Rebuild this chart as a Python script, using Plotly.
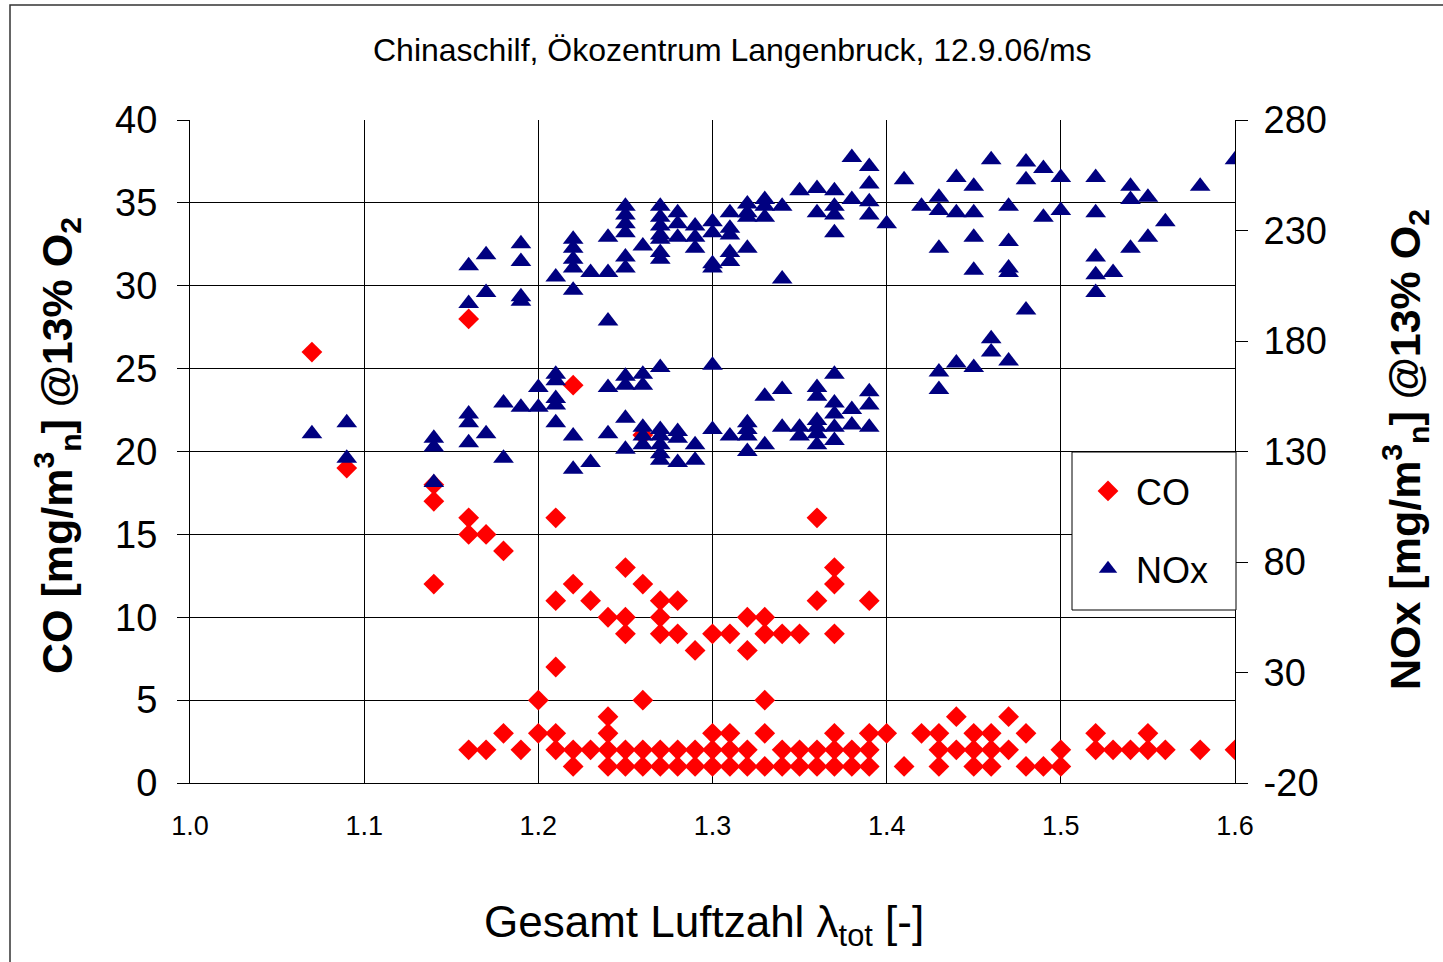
import plotly.graph_objects as go

# ---------------- data ----------------
co_lambda = [
    1.07, 1.09, 1.14, 1.14, 1.14, 1.16, 1.16, 1.16, 1.16, 1.17, 1.17, 1.18, 1.18, 1.19,
    1.20, 1.20, 1.21, 1.21, 1.21, 1.21, 1.21, 1.22, 1.22, 1.22, 1.22, 1.23, 1.23,
    1.24, 1.24, 1.24, 1.24, 1.24, 1.25, 1.25, 1.25, 1.25, 1.25,
    1.26, 1.26, 1.26, 1.26, 1.26, 1.27, 1.27, 1.27, 1.27, 1.27,
    1.28, 1.28, 1.28, 1.28, 1.29, 1.29, 1.29, 1.30, 1.30, 1.30, 1.30,
    1.31, 1.31, 1.31, 1.31, 1.32, 1.32, 1.32, 1.32, 1.33, 1.33, 1.33, 1.33, 1.33,
    1.34, 1.34, 1.34, 1.35, 1.35, 1.35, 1.36, 1.36, 1.36, 1.36,
    1.37, 1.37, 1.37, 1.37, 1.37, 1.37, 1.38, 1.38, 1.39, 1.39, 1.39, 1.39,
    1.40, 1.41, 1.42, 1.43, 1.43, 1.43, 1.44, 1.44, 1.45, 1.45, 1.45,
    1.46, 1.46, 1.46, 1.47, 1.47, 1.48, 1.48, 1.49, 1.50, 1.50,
    1.52, 1.52, 1.53, 1.54, 1.55, 1.55, 1.56, 1.58, 1.60,
]
co_values = [
    26, 19, 18, 17, 12, 28, 16, 15, 2, 15, 2, 14, 3, 2,
    5, 3, 16, 11, 7, 3, 2, 24, 12, 2, 1, 11, 2,
    10, 4, 3, 2, 1, 13, 10, 9, 2, 1,
    21, 12, 5, 2, 1, 11, 10, 9, 2, 1,
    11, 9, 2, 1, 8, 2, 1, 9, 3, 2, 1,
    9, 3, 2, 1, 10, 8, 2, 1, 10, 9, 5, 3, 1,
    9, 2, 1, 9, 2, 1, 16, 11, 2, 1,
    13, 12, 9, 3, 2, 1, 2, 1, 11, 3, 2, 1,
    3, 1, 3, 3, 2, 1, 4, 2, 3, 2, 1,
    3, 2, 1, 4, 2, 3, 1, 1, 2, 1,
    3, 2, 2, 2, 3, 2, 2, 2, 2,
]

nox_lambda = [
    1.07, 1.09, 1.09, 1.14, 1.14, 1.14,
    1.16, 1.16, 1.16, 1.16, 1.16, 1.17, 1.17, 1.17, 1.18, 1.18,
    1.19, 1.19, 1.19, 1.19, 1.19, 1.20, 1.20,
    1.21, 1.21, 1.21, 1.21, 1.21, 1.21,
    1.22, 1.22, 1.22, 1.22, 1.22, 1.22, 1.22, 1.23, 1.23,
    1.24, 1.24, 1.24, 1.24, 1.24,
    1.25, 1.25, 1.25, 1.25, 1.25, 1.25, 1.25, 1.25, 1.25, 1.25,
    1.26, 1.26, 1.26, 1.26, 1.26, 1.26,
    1.27, 1.27, 1.27, 1.27, 1.27, 1.27, 1.27, 1.27, 1.27, 1.27, 1.27, 1.27, 1.27,
    1.28, 1.28, 1.28, 1.28, 1.28, 1.28, 1.29, 1.29, 1.29, 1.29, 1.29,
    1.30, 1.30, 1.30, 1.30, 1.30, 1.30, 1.31, 1.31, 1.31, 1.31, 1.31, 1.31,
    1.32, 1.32, 1.32, 1.32, 1.32, 1.32, 1.32, 1.32, 1.33, 1.33, 1.33, 1.33, 1.33,
    1.34, 1.34, 1.34, 1.34, 1.35, 1.35, 1.35,
    1.36, 1.36, 1.36, 1.36, 1.36, 1.36, 1.36, 1.36,
    1.37, 1.37, 1.37, 1.37, 1.37, 1.37, 1.37, 1.37, 1.37,
    1.38, 1.38, 1.38, 1.38, 1.39, 1.39, 1.39, 1.39, 1.39, 1.39, 1.39,
    1.40, 1.41, 1.42, 1.43, 1.43, 1.43, 1.43, 1.43, 1.44, 1.44, 1.44,
    1.45, 1.45, 1.45, 1.45, 1.45, 1.46, 1.46, 1.46,
    1.47, 1.47, 1.47, 1.47, 1.47, 1.48, 1.48, 1.48, 1.49, 1.49, 1.50, 1.50,
    1.52, 1.52, 1.52, 1.52, 1.52, 1.53, 1.54, 1.54, 1.54, 1.55, 1.55, 1.56, 1.58, 1.60,
]
nox_values = [
    138, 143, 127, 136, 132, 116,
    214, 197, 147, 143, 134, 219, 202, 138, 152, 127,
    224, 216, 200, 198, 150, 159, 150,
    209, 165, 162, 154, 151, 143,
    226, 222, 217, 213, 203, 137, 122, 211, 125,
    227, 211, 189, 159, 138,
    241, 237, 233, 229, 218, 213, 164, 160, 145, 131,
    223, 165, 160, 141, 137, 133,
    241, 236, 232, 228, 226, 220, 217, 168, 140, 137, 133, 129, 126,
    238, 233, 227, 139, 136, 125, 232, 227, 222, 133, 126,
    234, 229, 215, 213, 169, 140, 238, 231, 228, 220, 216, 137,
    242, 238, 236, 222, 143, 140, 137, 130, 244, 241, 236, 155, 133,
    241, 208, 158, 141, 248, 141, 137,
    249, 238, 159, 155, 144, 141, 138, 133,
    248, 241, 237, 229, 165, 152, 147, 141, 135,
    263, 244, 149, 142, 259, 251, 243, 237, 157, 151, 141,
    233, 253, 241, 245, 239, 222, 166, 158, 254, 238, 170,
    250, 238, 227, 212, 168, 262, 181, 175,
    241, 225, 213, 211, 171, 261, 253, 194, 258, 236, 254, 239,
    254, 238, 218, 210, 202, 211, 250, 244, 222, 245, 227, 234, 250, 262,
]

x_ticks = [1.0, 1.1, 1.2, 1.3, 1.4, 1.5, 1.6]
co_ticks = [0, 5, 10, 15, 20, 25, 30, 35, 40]
nox_ticks = [-20, 30, 80, 130, 180, 230, 280]
nox_ticklabels = ["-20", "30", "80", "130", "180", "230", "280"]

FONT = "Liberation Sans, Arial, sans-serif"

fig = go.Figure()
fig.add_trace(go.Scatter(
    x=co_lambda, y=co_values, mode="markers", name="CO",
    legendgroup="co",
    marker=dict(symbol="diamond", size=16, color="#FF0000", line=dict(width=0)),
    yaxis="y",
))
fig.add_trace(go.Scatter(
    x=nox_lambda, y=nox_values, mode="markers", name="NOx",
    legendgroup="nox",
    marker=dict(symbol="triangle-up", size=18, color="#000080", line=dict(width=0)),
    yaxis="y2",
))

# plot area in pixels: left 190, right 1235, top 120, bottom 783
L, R, T, B = 190, 1235, 120, 783
W, H = 1443, 962
pw, ph = R - L, B - T


def px_x(p):
    return (p - L) / pw


def px_y(p):
    return (B - p) / ph


fig.update_layout(
    width=W, height=H,
    margin=dict(l=L, r=W - R, t=T, b=H - B, autoexpand=False),
    paper_bgcolor="white", plot_bgcolor="white",
    font=dict(family=FONT, color="black"),
    showlegend=True,
    legend=dict(
        x=px_x(1080), y=px_y(461), xanchor="left", yanchor="top",
        bgcolor="rgba(0,0,0,0)", borderwidth=0,
        font=dict(size=36, family=FONT),
        traceorder="grouped", tracegroupgap=28,
        itemwidth=46,
    ),
    xaxis=dict(
        range=[1.0, 1.6], tickvals=x_ticks, tickformat=".1f",
        showgrid=True, gridcolor="black", gridwidth=1,
        showline=True, linecolor="black", linewidth=1, mirror=False,
        ticks="", zeroline=False,
        tickfont=dict(size=27, family=FONT),
        ticklabelstandoff=19,
    ),
    yaxis=dict(
        range=[0, 40], tickvals=co_ticks,
        showgrid=True, gridcolor="black", gridwidth=1,
        showline=True, linecolor="black", linewidth=1,
        ticks="outside", ticklen=12, tickcolor="black",
        zeroline=False,
        tickfont=dict(size=38, family=FONT),
        ticklabelstandoff=12,
    ),
    yaxis2=dict(
        range=[-20, 280], tickvals=nox_ticks, ticktext=nox_ticklabels,
        overlaying="y", side="right",
        showgrid=False,
        showline=True, linecolor="black", linewidth=1,
        ticks="outside", ticklen=12, tickcolor="black",
        zeroline=False,
        tickfont=dict(size=38, family=FONT),
        ticklabelstandoff=8,
    ),
)

# outer chart frame (left and top edges visible in the picture)
fig.add_shape(
    type="rect", xref="paper", yref="paper",
    x0=px_x(10), x1=px_x(1460), y0=px_y(980), y1=px_y(5),
    line=dict(color="#333333", width=1.5), fillcolor="rgba(0,0,0,0)", layer="below",
)
# legend box
fig.add_shape(
    type="rect", xref="paper", yref="paper",
    x0=px_x(1072), x1=px_x(1236), y0=px_y(610), y1=px_y(452),
    line=dict(color="black", width=1), fillcolor="white", layer="above",
)

annotations = [
    dict(text="Chinaschilf, Ökozentrum Langenbruck, 12.9.06/ms",
         x=px_x(732), y=px_y(50), font=dict(size=32, family=FONT)),
    dict(text="Gesamt Luftzahl λ<sub>tot</sub> [-]",
         x=px_x(704), y=px_y(925), font=dict(size=44, family=FONT)),
    dict(text="<b>CO [mg/m<sup>3</sup><sub>n</sub>] @13% O<sub>2</sub></b>",
         x=px_x(57), y=px_y(446), textangle=-90, font=dict(size=43, family=FONT)),
    dict(text="<b>NOx [mg/m<sup>3</sup><sub>n</sub>] @13% O<sub>2</sub></b>",
         x=px_x(1405), y=px_y(450), textangle=-90, font=dict(size=43, family=FONT)),
]
for a in annotations:
    fig.add_annotation(xref="paper", yref="paper", showarrow=False,
                       xanchor="center", yanchor="middle", **a)

fig.write_html("out.html", config={"displayModeBar": False},
               post_script="document.body.style.margin='0';")
